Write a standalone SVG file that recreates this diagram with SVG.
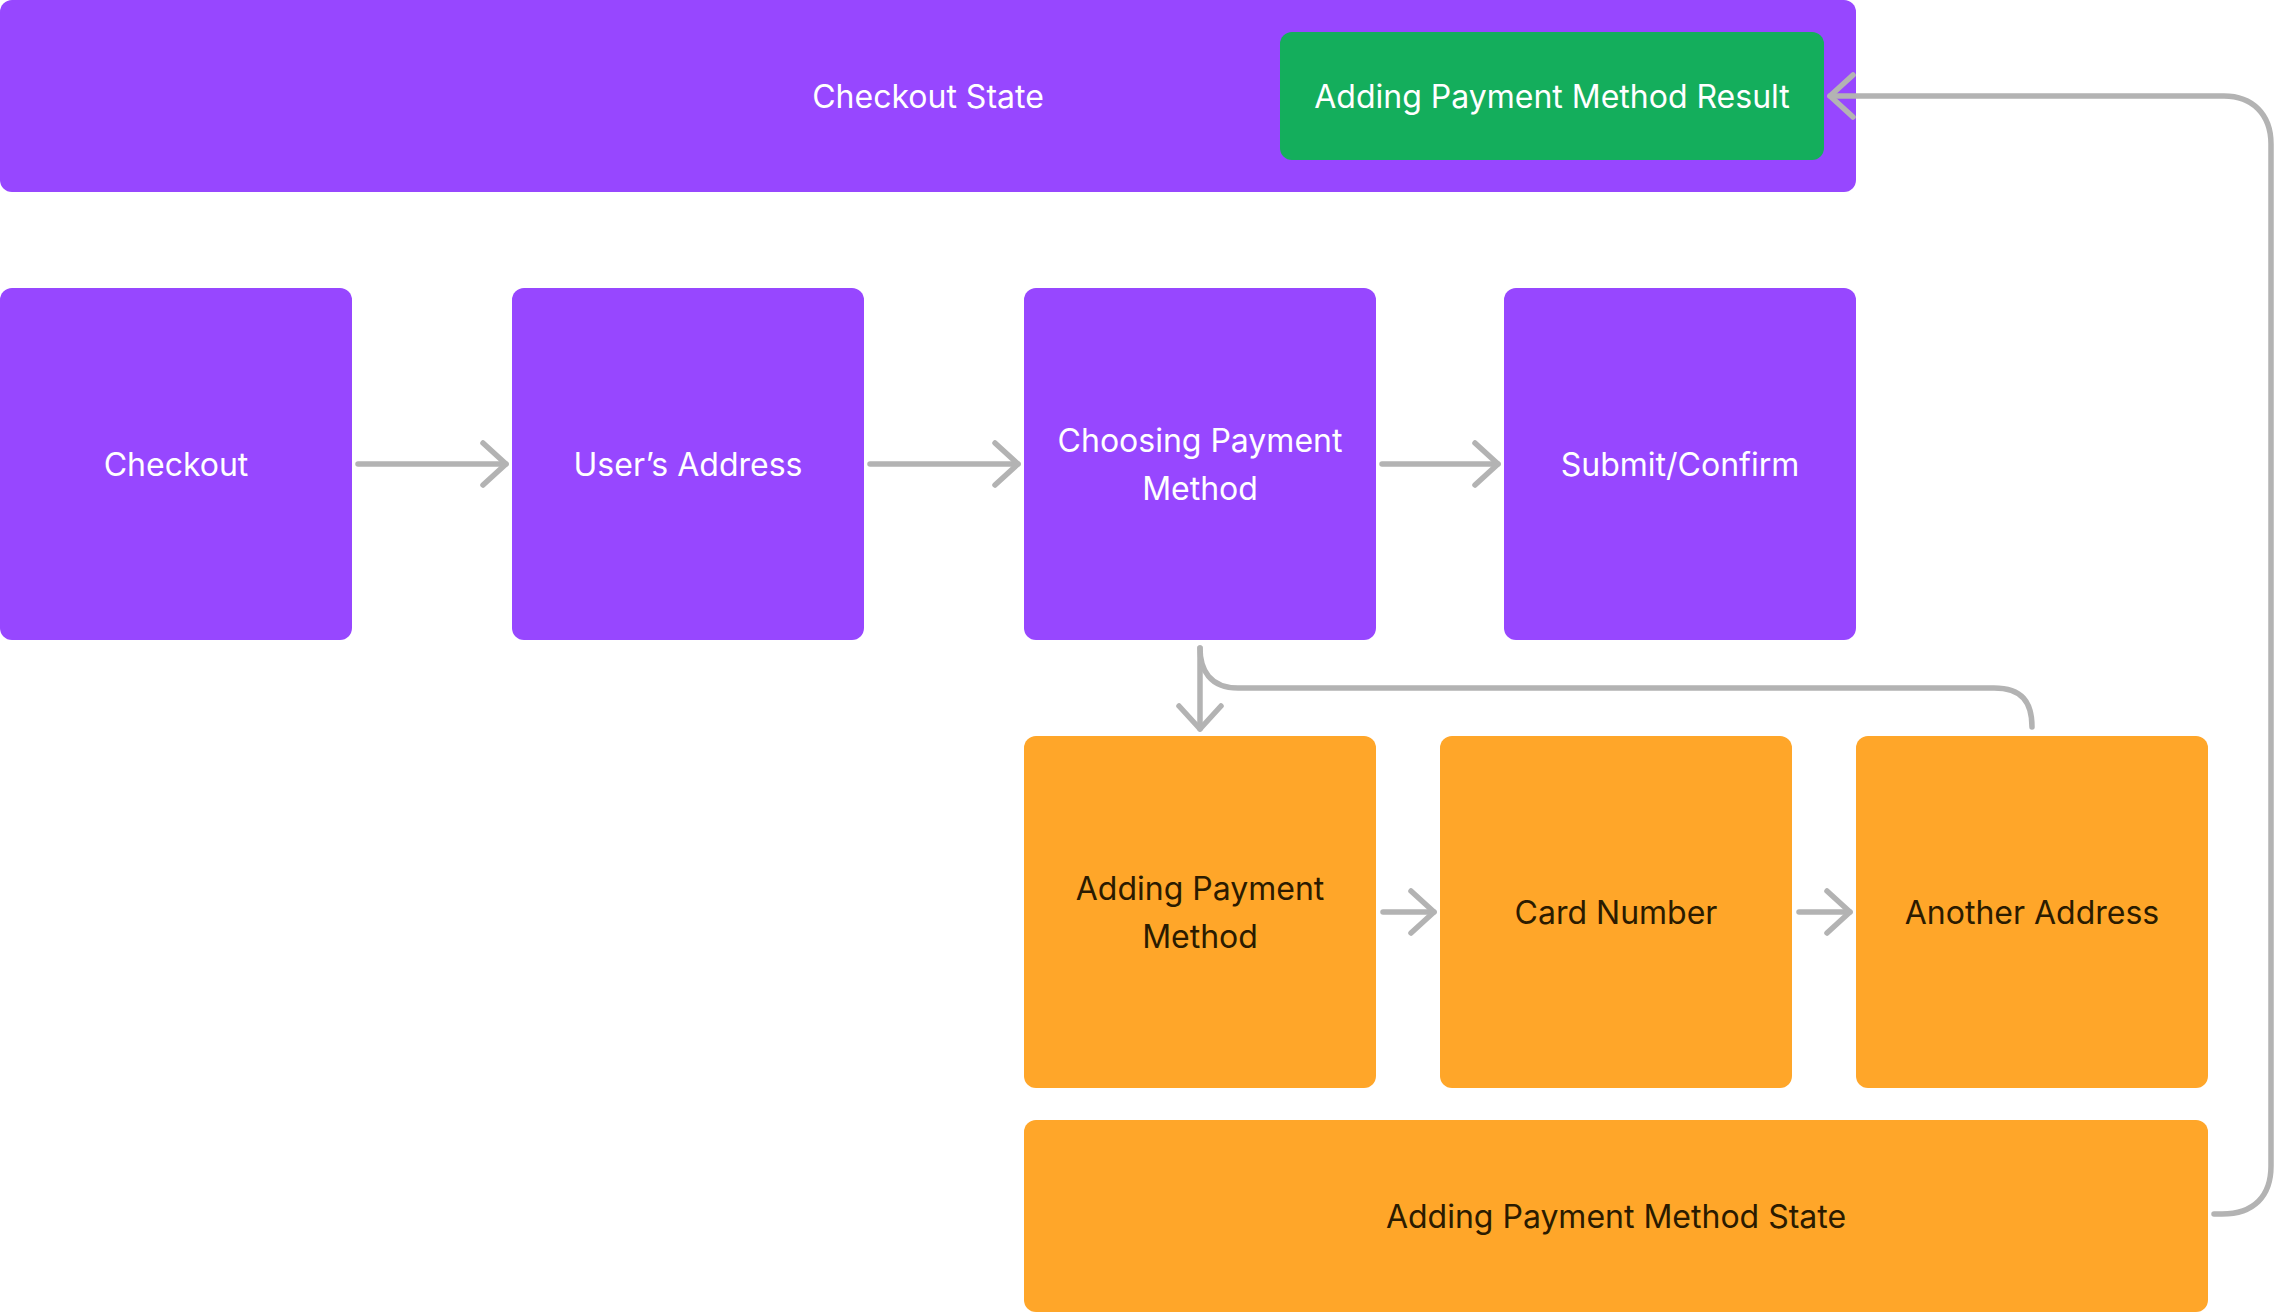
<svg xmlns="http://www.w3.org/2000/svg" width="2275" height="1312" viewBox="0 0 2275 1312">
<style>
.p{fill:#9747FF}
.g{fill:#14AE5C}
.o{fill:#FFA629}
.t{font-family:Inter,"Noto Sans","Liberation Sans",sans-serif;font-size:32px;font-weight:400;text-anchor:middle}
.w{fill:#FFFFFF}
.d{fill:#2B1B00}
.c{fill:none;stroke:#B3B3B3;stroke-width:5.5;stroke-linecap:round;stroke-linejoin:round}
</style>
<defs>
<marker id="ah" markerUnits="userSpaceOnUse" markerWidth="60" markerHeight="60" refX="0" refY="0" orient="auto" overflow="visible">
<path d="M -23 -21 L 0 0 L -23 21" fill="none" stroke="#B3B3B3" stroke-width="5.5" stroke-linecap="round" stroke-linejoin="round"/>
</marker>
</defs>
<rect width="2275" height="1312" fill="#FFFFFF"/>
<g id="checkout-state">
<rect class="p" x="0" y="0" width="1856" height="192" rx="12"/>
<text class="t w" x="928" y="108">Checkout State</text>
</g>
<g id="adding-payment-method-result">
<rect class="g" x="1280" y="32" width="544" height="128" rx="12"/>
<text class="t w" x="1552" y="108">Adding Payment Method Result</text>
</g>
<g id="checkout">
<rect class="p" x="0" y="288" width="352" height="352" rx="12"/>
<text class="t w" x="176" y="476">Checkout</text>
</g>
<g id="users-address">
<rect class="p" x="512" y="288" width="352" height="352" rx="12"/>
<text class="t w" x="688" y="476">User’s Address</text>
</g>
<g id="choosing-payment-method">
<rect class="p" x="1024" y="288" width="352" height="352" rx="12"/>
<text class="t w" x="1200" y="452">Choosing Payment</text>
<text class="t w" x="1200" y="500">Method</text>
</g>
<g id="submit-confirm">
<rect class="p" x="1504" y="288" width="352" height="352" rx="12"/>
<text class="t w" x="1680" y="476">Submit/Confirm</text>
</g>
<g id="adding-payment-method">
<rect class="o" x="1024" y="736" width="352" height="352" rx="12"/>
<text class="t d" x="1200" y="900">Adding Payment</text>
<text class="t d" x="1200" y="948">Method</text>
</g>
<g id="card-number">
<rect class="o" x="1440" y="736" width="352" height="352" rx="12"/>
<text class="t d" x="1616" y="924">Card Number</text>
</g>
<g id="another-address">
<rect class="o" x="1856" y="736" width="352" height="352" rx="12"/>
<text class="t d" x="2032" y="924">Another Address</text>
</g>
<g id="adding-payment-method-state">
<rect class="o" x="1024" y="1120" width="1184" height="192" rx="12"/>
<text class="t d" x="1616" y="1228">Adding Payment Method State</text>
</g>
<g id="connectors">
<path class="c" d="M 358 464 L 506 464" marker-end="url(#ah)"/>
<path class="c" d="M 870 464 L 1018 464" marker-end="url(#ah)"/>
<path class="c" d="M 1382 464 L 1498 464" marker-end="url(#ah)"/>
<path class="c" d="M 1383 912 L 1434 912" marker-end="url(#ah)"/>
<path class="c" d="M 1799 912 L 1850 912" marker-end="url(#ah)"/>
<path class="c" d="M 1200 648 L 1200 729" marker-end="url(#ah)"/>
<path class="c" d="M 2032 727 C 2032 702 2022 688 1994 688 L 1238 688 C 1210 688 1200 670 1200 648"/>
<path class="c" d="M 2214 1214 L 2222 1214 C 2254 1214 2271 1196 2271 1166 L 2271 144 C 2271 114 2252 96 2224 96 L 1830 96" marker-end="url(#ah)"/>
</g>
</svg>
